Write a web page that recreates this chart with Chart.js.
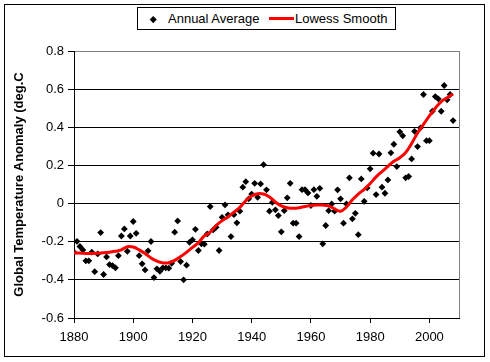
<!DOCTYPE html>
<html lang="en">

<head>
    <meta charset="UTF-8">
    <title>Global Temperature Anomaly</title>
    <script src="https://cdn.jsdelivr.net/npm/chart.js"></script>
    <style>
        body {
            margin: 0;
            background: #fff;
            font-family: "Liberation Sans", Arial, sans-serif;
        }

        #wrap {
            position: relative;
            width: 490px;
            height: 362px;
        }

        #legend {
            position: absolute;
            left: 137px;
            top: 7px;
            width: 259px;
            height: 23px;
            box-sizing: border-box;
            border: 1px solid #000;
            background: #fff;
            font-size: 13px;
            color: #000;
        }

        #legend span {
            position: absolute;
            top: 3px;
            white-space: nowrap;
        }

        .diamond {
            position: absolute;
            left: 13px;
            top: 9px;
            width: 4.5px;
            height: 4.5px;
            background: #000;
            transform: rotate(45deg);
        }

        .redline {
            position: absolute;
            left: 131px;
            top: 9px;
            width: 25px;
            height: 3px;
            background: #f00;
        }
    </style>
</head>

<body>
    <div id="wrap">
        <canvas id="chart" width="490" height="362"></canvas>
        <div id="legend">
            <div class="diamond"></div>
            <span style="left: 30px;">Annual Average</span>
            <div class="redline"></div>
            <span style="left: 157px;">Lowess Smooth</span>
        </div>
    </div>

    <script>
        // annual averages
        const years = [1880, 1881, 1882, 1883, 1884, 1885, 1886, 1887, 1888, 1889,
            1890, 1891, 1892, 1893, 1894, 1895, 1896, 1897, 1898, 1899,
            1900, 1901, 1902, 1903, 1904, 1905, 1906, 1907, 1908, 1909,
            1910, 1911, 1912, 1913, 1914, 1915, 1916, 1917, 1918, 1919,
            1920, 1921, 1922, 1923, 1924, 1925, 1926, 1927, 1928, 1929,
            1930, 1931, 1932, 1933, 1934, 1935, 1936, 1937, 1938, 1939,
            1940, 1941, 1942, 1943, 1944, 1945, 1946, 1947, 1948, 1949,
            1950, 1951, 1952, 1953, 1954, 1955, 1956, 1957, 1958, 1959,
            1960, 1961, 1962, 1963, 1964, 1965, 1966, 1967, 1968, 1969,
            1970, 1971, 1972, 1973, 1974, 1975, 1976, 1977, 1978, 1979,
            1980, 1981, 1982, 1983, 1984, 1985, 1986, 1987, 1988, 1989,
            1990, 1991, 1992, 1993, 1994, 1995, 1996, 1997, 1998, 1999,
            2000, 2001, 2002, 2003, 2004, 2005, 2006, 2007, 2008];
        const annual = [-0.255, -0.198, -0.225, -0.243, -0.30, -0.30, -0.255, -0.357, -0.264, -0.152,
            -0.372, -0.28, -0.32, -0.325, -0.337, -0.273, -0.17, -0.133, -0.25, -0.17,
            -0.094, -0.156, -0.273, -0.316, -0.348, -0.248, -0.199, -0.388, -0.342, -0.355,
            -0.337, -0.337, -0.339, -0.313, -0.15, -0.091, -0.304, -0.40, -0.323, -0.203,
            -0.19, -0.135, -0.246, -0.211, -0.213, -0.159, -0.016, -0.138, -0.124, -0.246,
            -0.072, -0.007, -0.059, -0.173, -0.058, -0.101, -0.04, 0.086, 0.115, 0.025,
            0.05, 0.106, 0.033, 0.103, 0.204, 0.072, -0.04, 0.007, -0.033, -0.063,
            -0.148, -0.037, 0.03, 0.106, -0.103, -0.103, -0.173, 0.073, 0.073, 0.056,
            -0.01, 0.073, 0.038, 0.08, -0.211, -0.115, -0.037, -0.002, -0.04, 0.072,
            0.025, -0.103, -0.002, 0.135, -0.08, -0.051, -0.163, 0.129, 0.012, 0.082,
            0.182, 0.264, 0.047, 0.26, 0.086, 0.054, 0.124, 0.266, 0.311, 0.194,
            0.376, 0.355, 0.135, 0.142, 0.234, 0.379, 0.299, 0.397, 0.572, 0.33,
            0.33, 0.484, 0.561, 0.549, 0.484, 0.619, 0.544, 0.572, 0.435];

        // lowess curve, sampled every 2 years from the picture
        const smoothYears = [1880, 1884, 1888, 1892, 1894, 1896, 1898, 1900, 1902, 1904,
            1906, 1908, 1910, 1912, 1914, 1916, 1918, 1920, 1922, 1924,
            1926, 1928, 1930, 1932, 1934, 1936, 1938, 1940, 1942, 1944,
            1946, 1948, 1950, 1952, 1954, 1956, 1958, 1960, 1962, 1964,
            1966, 1968, 1970, 1972, 1974, 1976, 1978, 1980, 1982, 1984,
            1986, 1988, 1990, 1992, 1994, 1996, 1998, 2000, 2002, 2004,
            2006, 2008];
        const smooth = [-0.258, -0.262, -0.26, -0.255, -0.25, -0.243, -0.226, -0.228, -0.243, -0.262,
            -0.285, -0.302, -0.311, -0.31, -0.298, -0.278, -0.255, -0.23, -0.205, -0.17,
            -0.15, -0.115, -0.09, -0.07, -0.045, -0.02, 0.015, 0.04, 0.052, 0.05,
            0.035, 0.008, -0.012, -0.022, -0.025, -0.022, -0.015, -0.01, -0.008, -0.008,
            -0.012, -0.028, -0.04, -0.018, 0.02, 0.05, 0.075, 0.105, 0.14, 0.168,
            0.195, 0.222, 0.24, 0.268, 0.315, 0.37, 0.415, 0.46, 0.5, 0.535,
            0.555, 0.575];

        const xTicks = [1880, 1900, 1920, 1940, 1960, 1980, 2000];
        const yTicks = [-0.6, -0.4, -0.2, 0, 0.2, 0.4, 0.6, 0.8];

        const font = { family: '"Liberation Sans", Arial, sans-serif', size: 13 };

        // outer frame and the grey right edge of the plot area
        const frame = {
            id: 'frame',
            beforeDraw(chart) {
                const c = chart.ctx;
                c.save();
                c.fillStyle = '#fff';
                c.fillRect(0, 0, chart.width, chart.height);
                c.strokeStyle = '#000';
                c.lineWidth = 1;
                c.strokeRect(4.5, 4.5, 480, 352);
                c.restore();
            },
            beforeDatasetsDraw(chart) {
                const a = chart.chartArea;
                const c = chart.ctx;
                c.save();
                c.strokeStyle = '#808080';
                c.lineWidth = 1;
                c.beginPath();
                c.moveTo(Math.round(a.right) + 0.5, a.top);
                c.lineTo(Math.round(a.right) + 0.5, a.bottom);
                c.stroke();
                c.restore();
            }
        };

        new Chart(document.getElementById('chart'), {
            type: 'scatter',
            data: {
                datasets: [{
                    label: 'Annual Average',
                    data: years.map((y, i) => ({ x: y, y: annual[i] })),
                    pointStyle: 'rectRot',
                    pointRadius: 3.4,
                    backgroundColor: '#000',
                    borderColor: '#000',
                    borderWidth: 0,
                    order: 2
                }, {
                    label: 'Lowess Smooth',
                    type: 'line',
                    data: smoothYears.map((y, i) => ({ x: y, y: smooth[i] })),
                    borderColor: '#ff0000',
                    borderWidth: 3,
                    pointRadius: 0,
                    tension: 0.4,
                    fill: false,
                    order: 1
                }]
            },
            options: {
                responsive: false,
                animation: false,
                layout: { padding: { top: 51, right: 31, left: 0, bottom: 0 } },
                scales: {
                    x: {
                        type: 'linear',
                        min: 1880,
                        max: 2010,
                        afterBuildTicks: s => { s.ticks = xTicks.map(v => ({ value: v })); },
                        afterFit: s => { s.height = 44; },
                        grid: { drawOnChartArea: false, tickLength: 5, color: '#000' },
                        border: { color: '#000' },
                        ticks: {
                            color: '#000', font: font, padding: 7, maxRotation: 0,
                            callback: v => String(v)
                        }
                    },
                    y: {
                        min: -0.6,
                        max: 0.8,
                        afterBuildTicks: s => { s.ticks = yTicks.map(v => ({ value: v })); },
                        afterFit: s => { s.width = 74; },
                        grid: {
                            color: ctx => ctx.tick && ctx.tick.value === 0.8 ? '#808080' : '#000',
                            tickColor: '#000',
                            tickLength: 6
                        },
                        border: { color: '#000' },
                        ticks: { color: '#000', font: font, padding: 4, callback: v => String(v) },
                        title: {
                            display: true,
                            text: 'Global Temperature Anomaly (deg.C',
                            color: '#000',
                            font: { family: font.family, size: 13, weight: 'bold' },
                            padding: { top: 12, bottom: 0 }
                        }
                    }
                },
                plugins: {
                    legend: { display: false },
                    tooltip: { enabled: false }
                }
            },
            plugins: [frame]
        });
    </script>
</body>

</html>
